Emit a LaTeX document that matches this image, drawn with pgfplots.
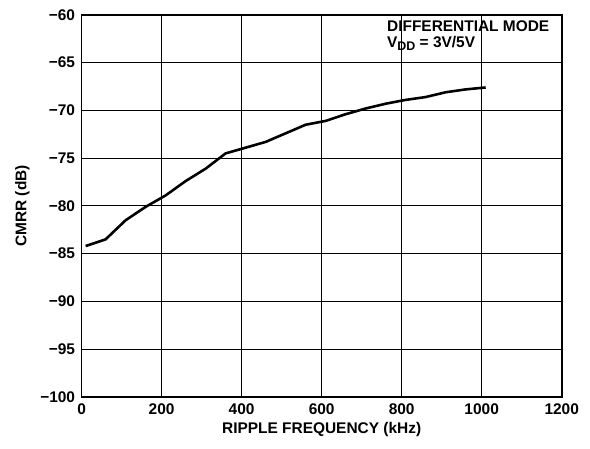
\documentclass[border=0pt]{standalone}
\usepackage{fontspec}
\setmainfont{Liberation Sans}
\usepackage{pgfplots}
\pgfplotsset{compat=1.18}

\newcommand{\lab}{\fontsize{15.5}{17}\selectfont\bfseries}

\begin{document}
\begin{tikzpicture}
\begin{axis}[
    scale only axis,
    width=480bp, height=382bp,
    xmin=0, xmax=1200, ymin=-100, ymax=-60,
    xtick={0,200,...,1200},
    ytick={-100,-95,...,-60},
    yticklabels={−100,−95,−90,−85,−80,−75,−70,−65,−60},
    grid=major,
    major grid style={black, line width=0.9pt},
    major tick length=0pt,
    axis line style={black, line width=1.7pt},
    tick label style={font=\lab},
    /pgf/number format/assume math mode=true,
    /pgf/number format/1000 sep={},
    yticklabel style={xshift=-3bp},
    xticklabel style={yshift=-3bp},
    xlabel={RIPPLE FREQUENCY (kHz)},
    ylabel={CMRR (dB)},
    label style={font=\lab},
    xlabel style={yshift=-1bp},
    ylabel style={yshift=4bp},
]
\addplot[black, line width=2.6pt, line join=round] coordinates {
    (10,-84.2) (60,-83.5) (110,-81.5) (160,-80.1) (210,-78.9)
    (260,-77.4) (310,-76.1) (360,-74.5) (410,-73.9) (460,-73.3)
    (510,-72.4) (560,-71.5) (610,-71.1) (660,-70.4) (710,-69.8)
    (760,-69.3) (810,-68.9) (860,-68.6) (910,-68.1) (960,-67.8)
    (1010,-67.6)
};
\node[anchor=north west, inner sep=0pt, align=left, font=\lab]
    at (rel axis cs:0.636,0.985)
    {DIFFERENTIAL MODE\\[-1pt]V\raisebox{-0.35ex}{\fontsize{12.5}{13}\selectfont DD} = 3V/5V};
\coordinate (bl) at (rel axis cs:-0.170,-0.135);
\coordinate (tr) at (rel axis cs:1.059,1.039);
\end{axis}
\path (bl) rectangle (tr);
\end{tikzpicture}
\end{document}
